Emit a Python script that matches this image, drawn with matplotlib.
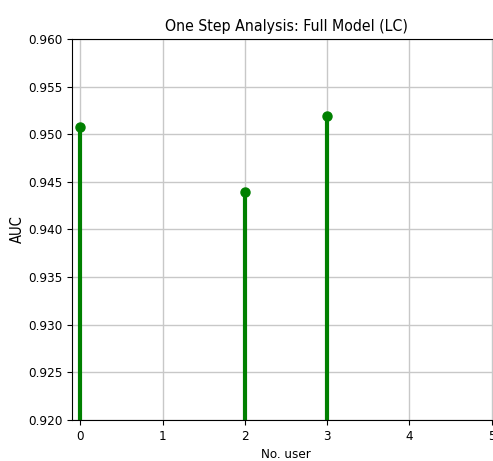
import matplotlib
matplotlib.use("Agg")
import matplotlib.pyplot as plt
from matplotlib import font_manager

users = [0, 2, 3]
auc = [0.9508, 0.9439, 0.9519]
title = "One Step Analysis: Full Model (LC)"

fam = "DejaVu Sans"
stretch = "normal"
cond = [f for f in font_manager.fontManager.ttflist if f.name == "DejaVu Sans" and f.stretch in ("condensed", "semi-condensed")]
if cond:
    stretch = "condensed"
plt.rcParams["font.family"] = [fam]
plt.rcParams["font.stretch"] = stretch

fig = plt.figure(figsize=(4.93, 4.61), dpi=100)
ax = fig.add_axes([0.146, 0.089, 0.868, 0.8265])
ax.grid(True, color="#c8c8c8", linewidth=1)
ax.set_axisbelow(True)
markerline, stemlines, baseline = ax.stem(users, auc, linefmt="g-", markerfmt="go", basefmt=" ")
plt.setp(stemlines, linewidth=3)
plt.setp(markerline, markersize=6.5)
ax.set_xlim(-0.1, 5.1)
ax.set_ylim(0.920, 0.960)
ax.set_yticks([0.920, 0.925, 0.930, 0.935, 0.940, 0.945, 0.950, 0.955, 0.960])
ax.set_yticklabels(["0.920", "0.925", "0.930", "0.935", "0.940", "0.945", "0.950", "0.955", "0.960"])
ax.set_xticks([0, 1, 2, 3, 4, 5])
ax.set_title(title, fontsize=11.3)
ax.set_xlabel("No. user", fontsize=9.5)
ax.set_ylabel("AUC", fontsize=10.5, labelpad=2)
ax.tick_params(labelsize=9.6)
fig.savefig("out.png", dpi=100)
